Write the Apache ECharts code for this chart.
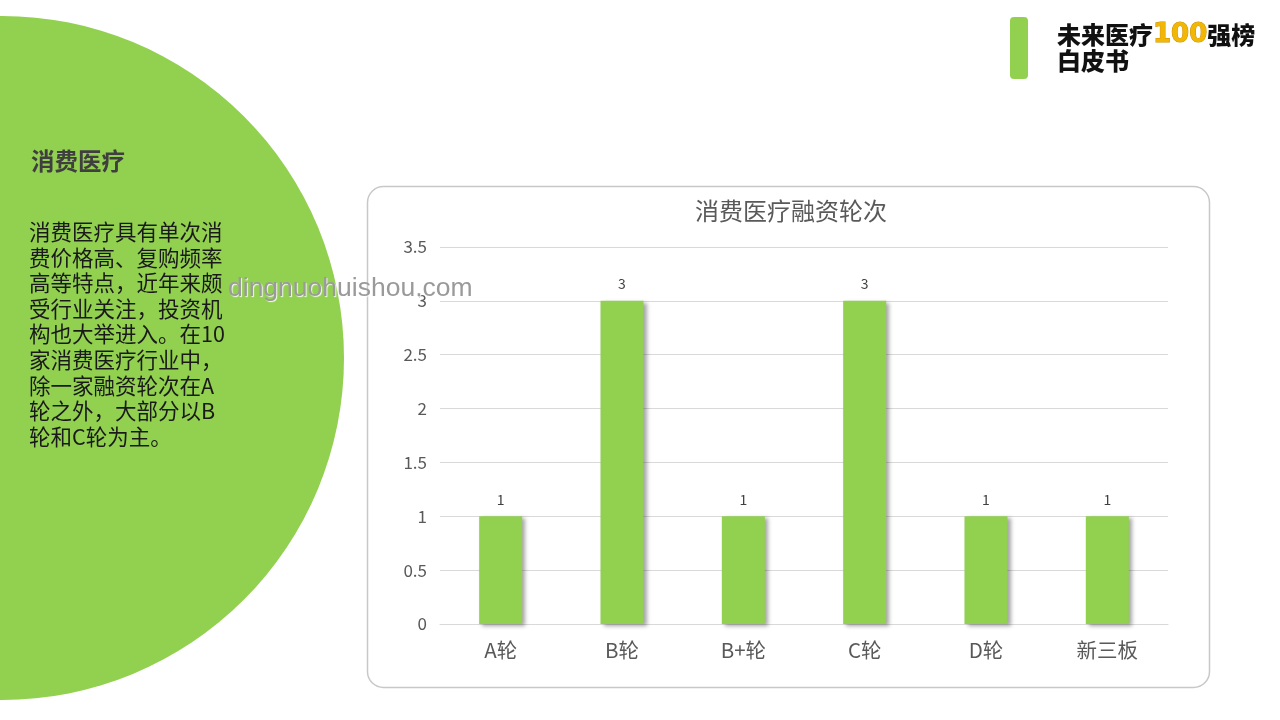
<!DOCTYPE html>
<html><head><meta charset="utf-8">
<script src="https://cdn.jsdelivr.net/npm/echarts@6/dist/echarts.min.js"></script>
<style>html,body{margin:0;padding:0;background:#fff}#c{width:1280px;height:720px}</style>
</head><body><div id="c"></div>
<script>
const categories = ['A轮', 'B轮', 'B+轮', 'C轮', 'D轮', '新三板'];
const counts = [1, 3, 1, 3, 1, 1];
const yTicks = [0, 0.5, 1, 1.5, 2, 2.5, 3, 3.5];
const chartTitle = '消费医疗融资轮次';
const sideHeading = '消费医疗';
const sideLines = ['消费医疗具有单次消', '费价格高、复购频率', '高等特点，近年来颇', '受行业关注，投资机', '构也大举进入。在10', '家消费医疗行业中，', '除一家融资轮次在A', '轮之外，大部分以B', '轮和C轮为主。'];

const FONT = '"Noto Sans CJK SC", "Noto Sans", sans-serif';
const chart = echarts.init(document.getElementById('c'));
const green = '#92D050';

const graphics = [
  { type: 'circle', z: -10, shape: { cx: 2, cy: 358, r: 342 }, style: { fill: green } },
  { type: 'rect', z: -5, shape: { x: 367.5, y: 186.5, width: 842, height: 501, r: 16 }, style: { fill: '#fff', stroke: '#c8c8c8', lineWidth: 1.5 } },
  { type: 'rect', shape: { x: 1010, y: 17, width: 18, height: 62, r: 4 }, style: { fill: green } },
  { type: 'text', x: 1057, y: 22, style: { rich: { a: { fill: '#111', fontSize: 24, fontWeight: 900, fontFamily: FONT }, b: { fill: '#F2B705', fontSize: 26, fontWeight: 900, fontFamily: 'DejaVu Sans', stroke: '#c89000', lineWidth: 1 } }, text: '{a|未来医疗}{b|100}{a|强榜}' } },
  { type: 'text', x: 1057, y: 49, style: { text: '白皮书', fill: '#111', fontSize: 24, fontWeight: 900, fontFamily: FONT } },
  { type: 'text', x: 31, y: 149, style: { text: sideHeading, fill: '#3f3f3f', fontSize: 23.5, fontWeight: 'bold', fontFamily: FONT } },
  { type: 'text', x: 29, y: 219, style: { text: sideLines.join('\n'), fill: '#1a1a1a', fontSize: 21.5, lineHeight: 25.6, fontFamily: FONT } },
  { type: 'text', x: 228, y: 275, z: 100, style: { text: 'dingnuohuishou.com', fill: '#9a9a9a', fontSize: 26.5, fontFamily: 'Liberation Sans', textShadowColor: 'rgba(255,255,255,0.9)', textShadowOffsetX: 1, textShadowOffsetY: 1, textShadowBlur: 1 } }
];

chart.setOption({
  animation: false,
  title: { text: chartTitle, left: 786, top: 194, textAlign: 'center', textStyle: { color: '#595959', fontSize: 24, fontWeight: 'normal', fontFamily: FONT } },
  grid: { left: 440, right: 112, top: 247, bottom: 96 },
  xAxis: {
    type: 'category', data: categories,
    axisLine: { lineStyle: { color: '#d9d9d9' } }, axisTick: { show: false },
    axisLabel: { color: '#595959', fontSize: 20.5, fontFamily: FONT, margin: 16 }
  },
  yAxis: {
    type: 'value', min: yTicks[0], max: yTicks[yTicks.length - 1], interval: 0.5,
    axisLine: { show: false }, axisTick: { show: false },
    splitLine: { lineStyle: { color: '#d9d9d9' } },
    axisLabel: { color: '#595959', fontSize: 17, fontFamily: FONT, margin: 13 }
  },
  series: [{
    type: 'bar', data: counts, barWidth: 43,
    itemStyle: { color: green, shadowColor: 'rgba(0,0,0,0.35)', shadowOffsetX: 3, shadowOffsetY: 2, shadowBlur: 4 },
    label: { show: true, position: 'top', distance: 10, color: '#404040', fontSize: 14, fontFamily: FONT }
  }],
  graphic: graphics
});
</script></body></html>
